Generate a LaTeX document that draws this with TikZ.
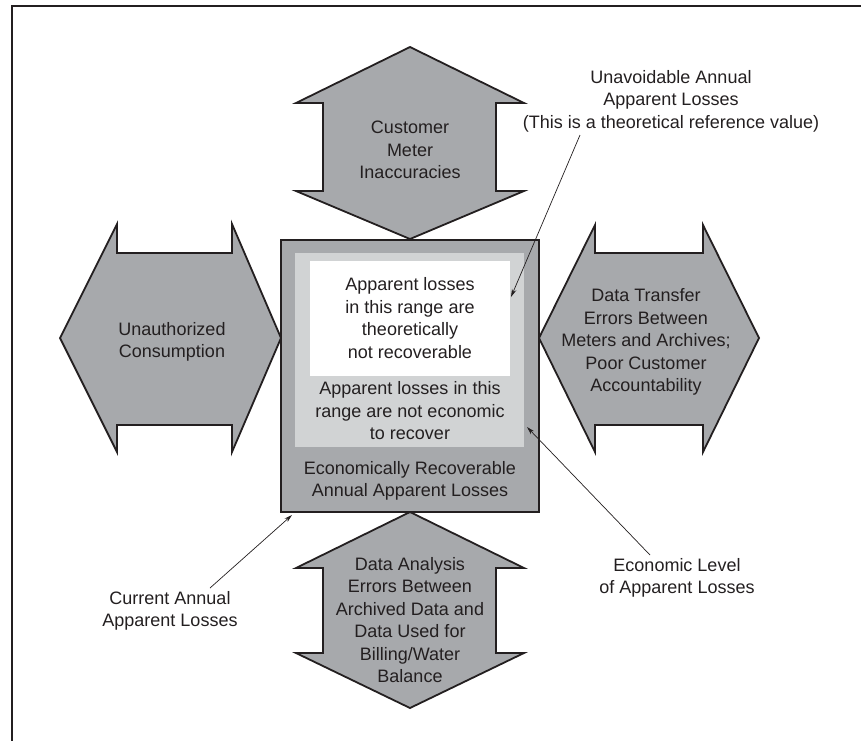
\documentclass[tikz,border=0pt]{standalone}
\usepackage{fontspec}
\setmainfont{Liberation Sans}
\usetikzlibrary{arrows.meta}
\definecolor{ink}{HTML}{231F20}
\definecolor{midgray}{HTML}{A7A9AC}
\definecolor{palegray}{HTML}{D1D3D4}

\begin{document}
\begin{tikzpicture}[x=1pt,y=-1pt,
  arrowbody/.style={draw=ink, line width=1.8pt, fill=midgray, line join=miter},
  caption/.style={text=ink, align=center, font=\fontsize{18}{22.5}\selectfont, inner sep=0pt},
  callout/.style={draw=ink, line width=0.7pt, -{Stealth[length=8pt,width=4.5pt]}}]

\useasboundingbox (0,0) rectangle (861,740);

% frame (top and left edges)
\draw[ink, line width=2pt] (12,742) -- (12,6) -- (863,6);

% top double arrow
\draw[arrowbody] (410,47) -- (524,103) -- (496,103) -- (496,191) -- (524,191)
  -- (410,239) -- (296,191) -- (323,191) -- (323,103) -- (296,103) -- cycle;
% bottom double arrow
\draw[arrowbody] (410,512) -- (524,568) -- (496,568) -- (496,653) -- (524,653)
  -- (410,708) -- (296,653) -- (323,653) -- (323,568) -- (296,568) -- cycle;
% left double arrow
\draw[arrowbody] (60,338) -- (117,224) -- (117,253) -- (232,253) -- (232,224)
  -- (281,338) -- (232,452) -- (232,425) -- (117,425) -- (117,452) -- cycle;
% right double arrow
\draw[arrowbody] (539,338) -- (595,225) -- (595,253) -- (703,253) -- (703,225)
  -- (759,338) -- (703,452) -- (703,425) -- (595,425) -- (595,452) -- cycle;

% nested boxes
\draw[ink, line width=2.4pt, fill=midgray] (281,240) rectangle (539,512);
\fill[palegray] (295,253) rectangle (524,447);
\fill[white] (310,261) rectangle (510,376);

% texts
\node[caption] (meter) at (410,150) {Customer\\Meter\\Inaccuracies};
\node[caption] (unauth) at (172,342) {Unauthorized\\Consumption};
\node[caption] (transfer) at (646,342) {Data Transfer\\Errors Between\\Meters and Archives;\\Poor Customer\\Accountability};
\node[caption] (analysis) at (410,620) {Data Analysis\\Errors Between\\Archived Data and\\Data Used for\\Billing/Water\\Balance};
\node[caption] (unrec) at (410,318) {Apparent losses\\in this range are\\theoretically\\not recoverable};
\node[caption] (noecon) at (410,411) {Apparent losses in this\\range are not economic\\to recover};
\node[caption] (econrec) at (410,481) {Economically Recoverable\\Annual Apparent Losses};
\node[caption] (unavoid) at (671,101) {Unavoidable Annual\\Apparent Losses\\(This is a theoretical reference value)};
\node[caption] (econlvl) at (677,578) {Economic Level\\of Apparent Losses};
\node[caption] (current) at (170,611) {Current Annual\\Apparent Losses};

% callout lines
\coordinate (uStart) at (580,135);
\coordinate (uTip) at (511,297);
\coordinate (eStart) at (650,555);
\coordinate (eTip) at (527,427);
\coordinate (cStart) at (210,588);
\coordinate (cTip) at (292,515);
\draw[callout] (uStart) -- (uTip);
\draw[callout] (eStart) -- (eTip);
\draw[callout] (cStart) -- (cTip);
\end{tikzpicture}
\end{document}
